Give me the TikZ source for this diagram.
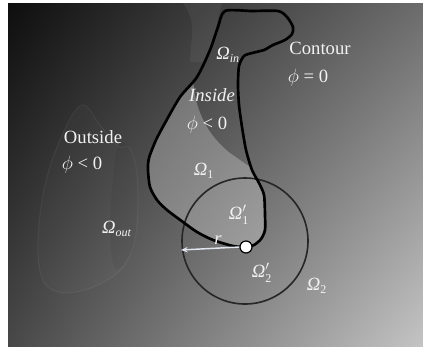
\documentclass[tikz,border=0pt]{standalone}
\usepackage{fontspec}
\setmainfont{Liberation Serif}
\usetikzlibrary{arrows.meta,shadings}
\definecolor{cTL}{RGB}{14,14,14}
\definecolor{cTR}{RGB}{108,108,108}
\definecolor{cBL}{RGB}{72,72,72}
\definecolor{cBR}{RGB}{196,196,196}
\definecolor{txt}{RGB}{242,242,242}
\definecolor{arrowc}{RGB}{225,230,240}
\tikzset{
  lbl/.style={text=txt, font=\fontsize{14}{16}\selectfont, inner sep=0pt},
  contourline/.style={draw=black, line width=2pt, line join=round},
  circleline/.style={draw=black!85, line width=1.2pt},
  marker/.style={circle, draw=black, fill=white, line width=0.9pt, minimum size=9pt, inner sep=0pt},
}
\newcommand{\OmSub}[1]{\textit{Ω}$_{\mbox{\fontsize{9}{10}\selectfont #1}}$}
\newcommand{\OmPSub}[1]{\textit{Ω}$'_{\mbox{\fontsize{9}{10}\selectfont #1}}$}
\begin{document}
\begin{tikzpicture}[x=0.75pt,y=-0.75pt]
\useasboundingbox (0,0) rectangle (423,347);
\fill[white] (0,0) rectangle (423,347);
\shade[upper left=cTL, upper right=cTR, lower left=cBL, lower right=cBR] (8,3) rectangle (423,346);
% faint left blobs
\filldraw[fill=white, fill opacity=0.02, draw=white, draw opacity=0.05, line width=0.8pt]
  plot[smooth cycle, tension=0.6] coordinates {(82,105) (62,135) (45,185) (38,240) (42,278) (58,292) (85,290) (115,275) (130,255) (137,225) (137,175) (130,148) (118,146) (100,125)};
\fill[black, opacity=0.05]
  plot[smooth cycle, tension=0.6] coordinates {(118,146) (130,148) (137,175) (137,225) (130,255) (115,268) (110,230) (113,180)};
% top band
\fill[white, opacity=0.05] (183,3) .. controls (190,12) and (193,22) .. (192,35) .. controls (191,48) and (190,55) .. (190,62) -- (205,62) -- (215,30) -- (222,3) -- cycle;
% contour path
\def\contourpath{plot[smooth cycle, tension=0.45] coordinates {(225,11) (252,11) (278,11) (287,17) (293,27) (292,34) (285,40) (273,45) (264,50) (252,53) (244,56) (239,66) (238,85) (239,105) (242,127) (246,150) (252,170) (259,183) (264,195) (265,215) (265,230) (261,239) (254,245) (246,247) (233,246) (213,240) (197,232) (183,222) (167,210) (157,200) (150,187) (148,170) (149,158) (156,140) (165,123) (180,97) (197,77) (210,50) (218,27)}}
\begin{scope}
  \clip \contourpath;
  \fill[white, opacity=0.26] plot[smooth, tension=0.6] coordinates {(186,40) (191,62) (196,100) (207,127) (223,147) (240,160) (262,175)} -- (300,180) -- (300,270) -- (130,270) -- (130,40) -- cycle;
\end{scope}
% circle
\coordinate (c) at (245,241);
\draw[circleline] (c) circle[radius=63];
% contour
\draw[contourline] \contourpath;
% marker and radius arrow
\node[marker] (m) at (246,247) {};
\coordinate (rend) at (181,250);
\draw[arrowc, line width=1.1pt, -{Stealth[length=5pt,width=4pt]}] (m.west) -- (rend);
% labels
\node[lbl] (omin) at (228,55) {\OmSub{\textit{in}}};
\node[lbl] (cont) at (320,48) {Contour};
\node[lbl] (phi0) at (308,78) {$\phi$ = 0};
\node[lbl] (ins) at (212,95) {\textit{Inside}};
\node[lbl] (phiin) at (207,125) {$\phi$ < 0};
\node[lbl] (outs) at (93,137) {Outside};
\node[lbl] (phiout) at (82,165) {$\phi$ < 0};
\node[lbl] (om1) at (204,171) {\OmSub{1}};
\node[lbl] (om1p) at (239,215) {\OmPSub{1}};
\node[lbl] (omout) at (117,229) {\OmSub{\textit{out}}};
\node[lbl] (rlab) at (218,240) {\textit{r}};
\node[lbl] (om2p) at (262,273) {\OmPSub{2}};
\node[lbl] (om2) at (317,286) {\OmSub{2}};
\end{tikzpicture}
\end{document}
